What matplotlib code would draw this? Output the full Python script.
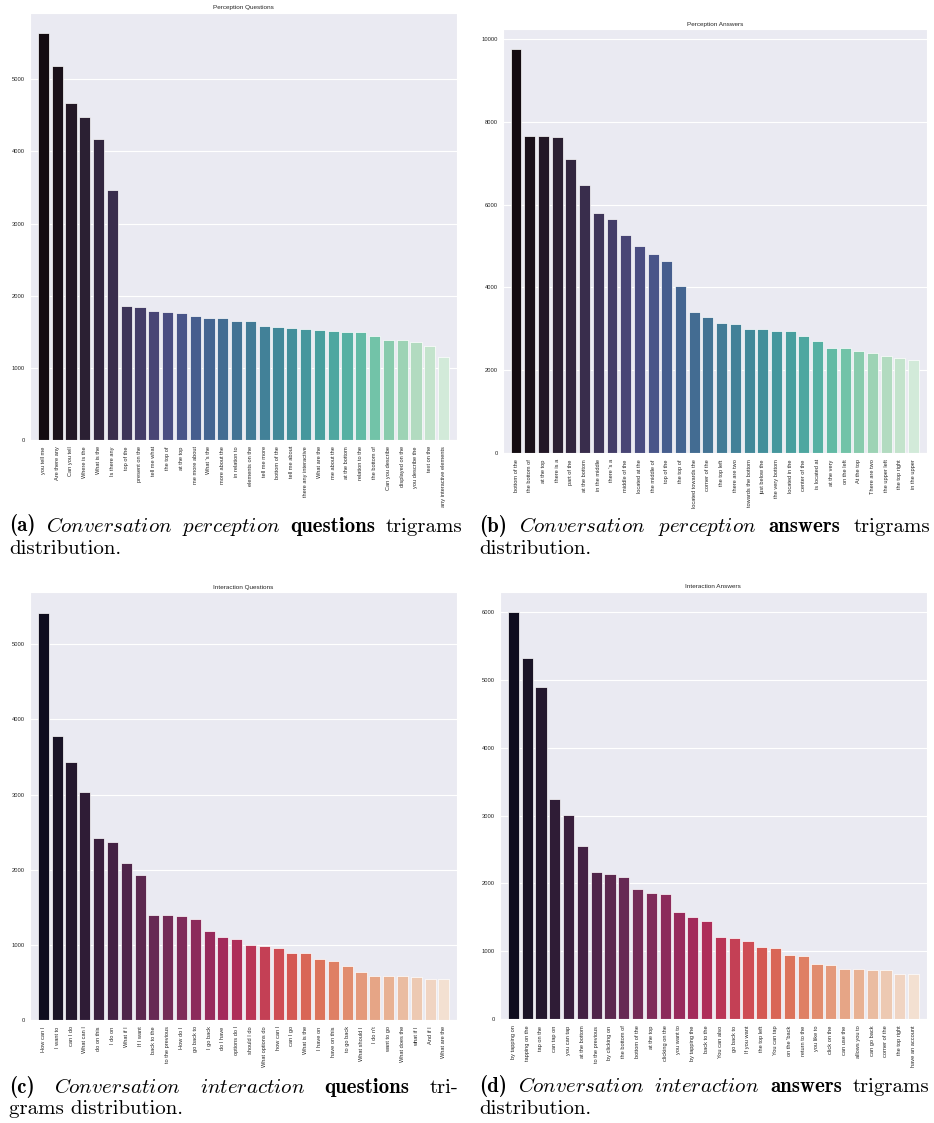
import numpy as np
import matplotlib
matplotlib.use("Agg")
import matplotlib.pyplot as plt
import seaborn as sns

# --- data ---
pq_labels = ["you tell me", "Are there any", "Can you tell", "Where is the", "What is the",
             "Is there any", "top of the", "present on the", "tell me what", "the top of",
             "at the top", "me more about", "What 's the", "more about the", "in relation to",
             "elements on the", "tell me more", "bottom of the", "tell me about",
             "there any interactive", "What are the", "me about the", "at the bottom",
             "relation to the", "the bottom of", "Can you describe", "displayed on the",
             "you describe the", "text on the", "any interactive elements"]
pq_values = [5640, 5190, 4672, 4483, 4173, 3463, 1860, 1842, 1787, 1773,
             1759, 1713, 1690, 1690, 1648, 1645, 1579, 1570, 1556, 1533,
             1523, 1514, 1495, 1495, 1445, 1390, 1380, 1353, 1298, 1154]

pa_labels = ["bottom of the", "the bottom of", "at the top", "there is a", "part of the",
             "at the bottom", "in the middle", "there 's a", "middle of the", "located at the",
             "the middle of", "top of the", "the top of", "located towards the", "corner of the",
             "the top left", "there are two", "towards the bottom", "just below the",
             "the very bottom", "located in the", "center of the", "is located at",
             "at the very", "on the left", "At the top", "There are two", "the upper left",
             "the top right", "in the upper"]
pa_values = [9750, 7646, 7646, 7631, 7092, 6474, 5800, 5646, 5270, 4996,
             4795, 4634, 4024, 3398, 3294, 3140, 3108, 3004, 2988, 2948,
             2940, 2827, 2715, 2547, 2537, 2458, 2410, 2337, 2297, 2241]

iq_labels = ["How can I", "I want to", "can I do", "What can I", "do on this", "I do on",
             "What if I", "If I want", "back to the", "to the previous", "How do I",
             "go back to", "I go back", "do I have", "options do I", "should I do",
             "What options do", "how can I", "can I go", "What is the", "I have on",
             "have on this", "to go back", "What should I", "I do n't", "want to go",
             "What does the", "what if I", "And if I", "What are the"]
iq_values = [5422, 3777, 3436, 3040, 2418, 2364, 2093, 1933, 1404, 1396,
             1378, 1338, 1182, 1102, 1076, 1000, 982, 964, 889, 889,
             809, 782, 724, 640, 591, 589, 582, 578, 551, 547]

ia_labels = ["by tapping on", "tapping on the", "tap on the", "can tap on", "you can tap",
             "at the bottom", "to the previous", "by clicking on", "the bottom of",
             "bottom of the", "at the top", "clicking on the", "you want to", "by tapping the",
             "back to the", "You can also", "go back to", "If you want", "the top left",
             "You can tap", "on the 'back", "return to the", "you like to", "click on the",
             "can use the", "allows you to", "can go back", "corner of the", "the top right",
             "have an account"]
ia_values = [5995, 5324, 4887, 3240, 3009, 2553, 2166, 2137, 2093, 1916,
             1853, 1843, 1578, 1504, 1441, 1206, 1196, 1147, 1068, 1049,
             941, 931, 809, 799, 744, 740, 725, 725, 671, 671]

sns.set_style("darkgrid")
plt.rcParams['font.family'] = ['Liberation Sans', 'DejaVu Sans']
plt.rcParams['mathtext.fontset'] = 'cm'

W, H = 934, 1123
fig = plt.figure(figsize=(W / 100, H / 100), dpi=100)


def draw(box, labels, values, pal, title):
    l, r, t, b = box
    ax = fig.add_axes([l / W, 1 - b / H, (r - l) / W, (b - t) / H])
    x = np.arange(len(values))
    # seaborn barplot desaturates its palette to 0.75
    colors = [sns.desaturate(c, 0.75) for c in sns.color_palette(pal, len(values))]
    ax.bar(x, values, width=0.8, color=colors, edgecolor='white', linewidth=0.5)
    ax.set_xticks(x)
    ax.set_xticklabels(labels, rotation=90, fontsize=4.1)
    ax.set_xlim(-0.97, len(values) - 0.05)
    ax.tick_params(axis='x', pad=4.5, length=0)
    ax.tick_params(axis='y', labelsize=4.2, pad=3.5, length=0)
    ax.xaxis.grid(False)
    ax.yaxis.grid(True, color='white', linewidth=0.8)
    ax.set_title(title, fontsize=4.6, pad=2.5)
    return ax


draw((30, 456.7, 12.7, 440), pq_labels, pq_values, "mako", "Perception Questions")
draw((502.7, 926.7, 29, 453), pa_labels, pa_values, "mako", "Perception Answers")
draw((30, 457, 592.3, 1020), iq_labels, iq_values, "rocket", "Interaction Questions")
draw((500, 926.7, 591.7, 1019.3), ia_labels, ia_values, "rocket", "Interaction Answers")

# --- captions (justified first line, like the LaTeX subcaptions) ---
renderer = fig.canvas.get_renderer()
CAP = 15


def caption(words, x0, x1, y, line2, y2):
    # words: (text, family) pairs; family None -> mathtext italic
    texts = [fig.text(0, 0, w, fontsize=CAP, va='baseline', color='black',
                      family=fam if fam else 'cmr10') for w, fam in words]
    widths = [t.get_window_extent(renderer).width for t in texts]
    gap = (x1 - x0 - sum(widths)) / (len(words) - 1)
    x = x0
    for t, w in zip(texts, widths):
        t.set_position((x / W, 1 - y / H))
        x += w + gap
    fig.text(x0 / W, 1 - y2 / H, line2, fontsize=CAP, va='baseline',
             color='black', family='cmr10')


caption([("(a)", 'cmb10'), (r"$\mathit{Conversation}$", None), (r"$\mathit{perception}$", None),
         ("questions", 'cmb10'), ("trigrams", 'cmr10')],
        9, 462, 531.5, "distribution.", 553.5)
caption([("(b)", 'cmb10'), (r"$\mathit{Conversation}$", None), (r"$\mathit{perception}$", None),
         ("answers", 'cmb10'), ("trigrams", 'cmr10')],
        479, 930, 532, "distribution.", 554)
caption([("(c)", 'cmb10'), (r"$\mathit{Conversation}$", None), (r"$\mathit{interaction}$", None),
         ("questions", 'cmb10'), ("tri-", 'cmr10')],
        9, 458, 1093, "grams distribution.", 1114.5)
caption([("(d)", 'cmb10'), (r"$\mathit{Conversation}$", None), (r"$\mathit{interaction}$", None),
         ("answers", 'cmb10'), ("trigrams", 'cmr10')],
        479, 929.3, 1092, "distribution.", 1114)

fig.savefig("out.png", dpi=100)
